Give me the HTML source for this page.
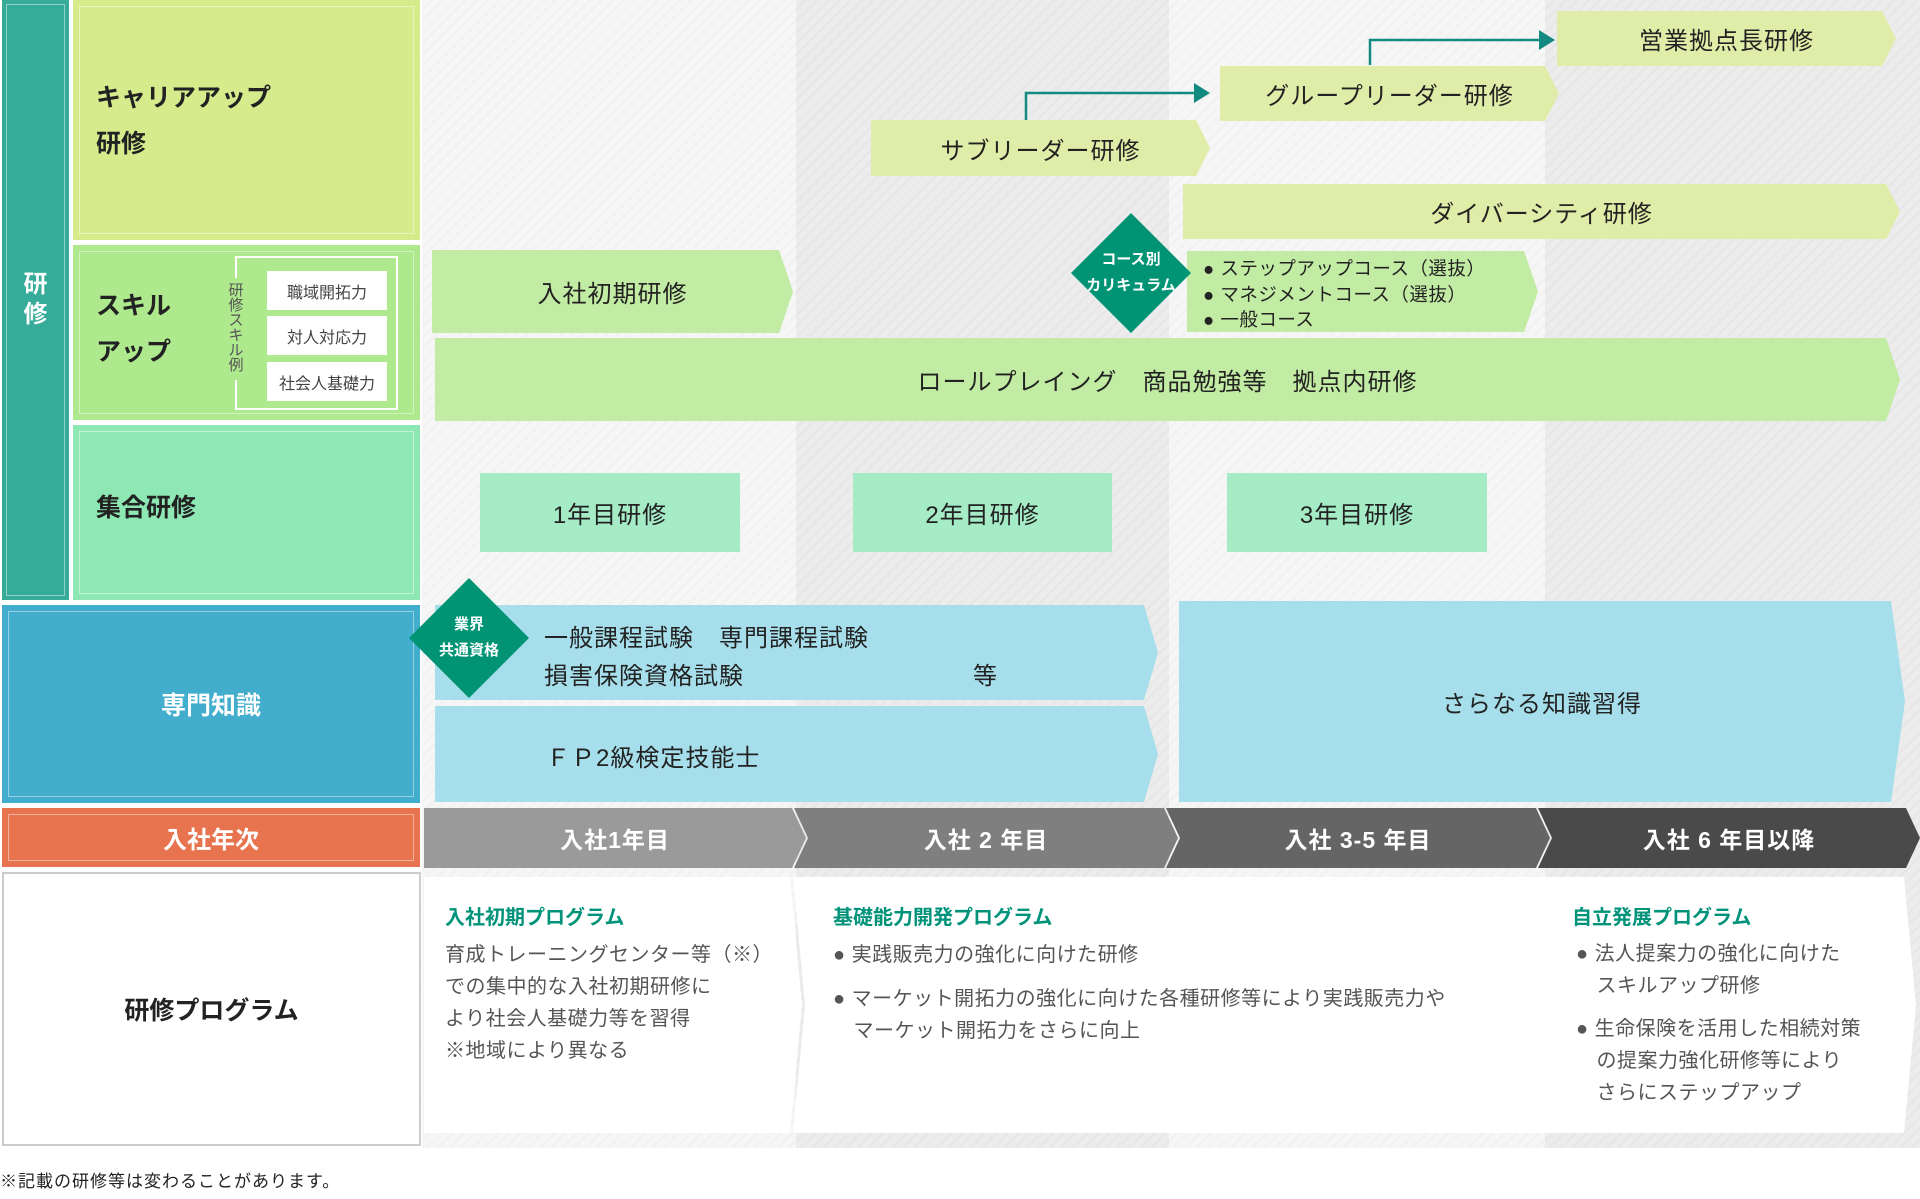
<!DOCTYPE html>
<html><head><meta charset="utf-8">
<style>
*{margin:0;padding:0;box-sizing:border-box}
body{width:1920px;height:1199px;background:#fff;position:relative;overflow:hidden;font-family:"Liberation Sans","Noto Sans CJK JP",sans-serif;color:#222}
.a{position:absolute}
.col{position:absolute;top:0;height:1148px}
.l1{background:repeating-linear-gradient(135deg,#f6f6f6 0 6px,#f1f1f1 6px 8px)}
.l2{background:repeating-linear-gradient(135deg,#ececec 0 6px,#e6e6e6 6px 8px)}
.c{display:flex;align-items:center;justify-content:center;text-align:center}
.chev{clip-path:polygon(0 0,calc(100% - 14px) 0,100% 50%,calc(100% - 14px) 100%,0 100%)}
.yr{clip-path:polygon(0 0,calc(100% - 14px) 0,100% 50%,calc(100% - 14px) 100%,0 100%,14px 50%);color:#fff;font-size:23px;font-weight:bold;letter-spacing:1px}
.lab{font-size:25px;font-weight:bold;color:#222;line-height:46px}
.t{font-size:24px;color:#222;letter-spacing:1px}
.inner{position:absolute;inset:6px;border:1.5px solid rgba(255,255,255,.45)}
.dia{position:absolute;width:120px;height:120px;clip-path:polygon(50% 0,100% 50%,50% 100%,0 50%);background:#009474;color:#fff;font-weight:bold;font-size:15px;line-height:26px}
.sk{position:absolute;left:267px;width:120px;height:39px;background:#fff;font-size:16px;color:#444}
.ph{font-size:20px;font-weight:bold;color:#00937a}
.pb{font-size:20px;color:#555;line-height:32px;letter-spacing:0.5px}
</style></head><body>
<div class="col l1" style="left:422px;width:374px"></div>
<div class="col l2" style="left:796px;width:373px"></div>
<div class="col l1" style="left:1169px;width:376px"></div>
<div class="col l2" style="left:1545px;width:375px"></div>

<div class="a c" style="left:2px;top:0;width:67px;height:600px;background:#36ab99;color:#fff;font-size:24px;font-weight:bold;line-height:30px"><div class="inner" style="inset:4px"></div>研<br>修</div>
<div class="a" style="left:73px;top:0;width:347px;height:240px;background:#d6eb8c"><div class="inner"></div><div class="a lab" style="left:23px;top:75px">キャリアアップ<br>研修</div></div>
<div class="a" style="left:73px;top:245px;width:347px;height:175px;background:#aee98e"><div class="inner"></div><div class="a lab" style="left:23px;top:38px">スキル<br>アップ</div>
<div class="a" style="left:162px;top:11px;width:163px;height:154px;border:2px solid #fff;border-left:none"></div>
<div class="a" style="left:162px;top:11px;width:2px;height:22px;background:#fff"></div>
<div class="a" style="left:162px;top:135px;width:2px;height:30px;background:#fff"></div>
<div class="a" style="left:153px;top:38px;width:20px;font-size:15px;color:#555;line-height:15px;text-align:center">研修スキル例</div>
</div>
<div class="sk c" style="top:271px">職域開拓力</div>
<div class="sk c" style="top:316px">対人対応力</div>
<div class="sk c" style="top:362px">社会人基礎力</div>
<div class="a" style="left:73px;top:425px;width:347px;height:175px;background:#8ee8b4"><div class="inner"></div><div class="a lab" style="left:23px;top:60px">集合研修</div></div>
<div class="a c" style="left:2px;top:605px;width:418px;height:198px;background:#42adcd;color:#fff;font-size:25px;font-weight:bold"><div class="inner"></div>専門知識</div>
<div class="a c" style="left:2px;top:808px;width:418px;height:59px;background:#e8744f;color:#fff;font-size:24px;font-weight:bold"><div class="inner"></div>入社年次</div>
<div class="a c" style="left:2px;top:872px;width:419px;height:274px;background:#fff;border:2px solid #ccc;font-size:25px;font-weight:bold;color:#222">研修プログラム</div>

<div class="a c chev t" style="left:871px;top:120px;width:339px;height:56px;background:#e0eda8">サブリーダー研修</div>
<div class="a c chev t" style="left:1220px;top:66px;width:339px;height:55px;background:#e0eda8">グループリーダー研修</div>
<div class="a c chev t" style="left:1557px;top:11px;width:339px;height:55px;background:#e0eda8">営業拠点長研修</div>
<div class="a c chev t" style="left:1183px;top:184px;width:717px;height:55px;background:#e0eda8">ダイバーシティ研修</div>
<svg class="a" style="left:0;top:0" width="1920" height="200">
<polyline points="1026,120 1026,93 1195,93" fill="none" stroke="#138a80" stroke-width="2.5"/>
<polygon points="1210,93 1194,83 1194,103" fill="#138a80"/>
<polyline points="1370,65 1370,40 1540,40" fill="none" stroke="#138a80" stroke-width="2.5"/>
<polygon points="1555,40 1539,30 1539,50" fill="#138a80"/>
</svg>

<div class="a c chev t" style="left:432px;top:250px;width:361px;height:83px;background:#c2eba3">入社初期研修</div>
<div class="a chev" style="left:1187px;top:251px;width:351px;height:81px;background:#c2eba3;font-size:18.5px;line-height:25.5px;padding:5px 0 0 16px;color:#222;letter-spacing:0.5px">● ステップアップコース（選抜）<br>● マネジメントコース（選抜）<br>● 一般コース</div>
<div class="dia c" style="left:1071px;top:213px">コース別<br>カリキュラム</div>
<div class="a c chev t" style="left:435px;top:338px;width:1465px;height:83px;background:#c2eba3">ロールプレイング　商品勉強等　拠点内研修</div>

<div class="a c t" style="left:480px;top:473px;width:260px;height:79px;background:#a5ebc5">1年目研修</div>
<div class="a c t" style="left:853px;top:473px;width:259px;height:79px;background:#a5ebc5">2年目研修</div>
<div class="a c t" style="left:1227px;top:473px;width:260px;height:79px;background:#a5ebc5">3年目研修</div>

<div class="a chev t" style="left:435px;top:605px;width:723px;height:95px;background:#a6dfeb">
<div class="a" style="left:109px;top:13px">一般課程試験　専門課程試験</div>
<div class="a" style="left:109px;top:51px">損害保険資格試験</div>
<div class="a" style="left:538px;top:51px">等</div></div>
<div class="a chev t" style="left:435px;top:706px;width:723px;height:96px;background:#a6dfeb"><div class="a" style="left:111px;top:32px">ＦＰ2級検定技能士</div></div>
<div class="a c chev t" style="left:1179px;top:601px;width:726px;height:201px;background:#a6dfeb">さらなる知識習得</div>
<div class="dia c" style="left:409px;top:578px">業界<br>共通資格</div>

<div class="a c yr" style="left:424px;top:808px;width:382px;height:60px;background:#9a9a9a;clip-path:polygon(0 0,calc(100% - 14px) 0,100% 50%,calc(100% - 14px) 100%,0 100%)">入社1年目</div>
<div class="a c yr" style="left:794px;top:808px;width:384px;height:60px;background:#7f7f7f">入社 2 年目</div>
<div class="a c yr" style="left:1166px;top:808px;width:384px;height:60px;background:#656565">入社 3-5 年目</div>
<div class="a c yr" style="left:1538px;top:808px;width:382px;height:60px;background:#4a4a4a">入社 6 年目以降</div>

<div class="a" style="left:424px;top:877px;width:378px;height:256px;background:#fff;clip-path:polygon(0 0,calc(100% - 12px) 0,100% 50%,calc(100% - 12px) 100%,0 100%)">
<div class="a ph" style="left:21px;top:24px">入社初期プログラム</div>
<div class="a pb" style="left:21px;top:62px">育成トレーニングセンター等（※）<br>での集中的な入社初期研修に<br>より社会人基礎力等を習得<br>※地域により異なる</div></div>
<div class="a" style="left:793px;top:877px;width:752px;height:256px;background:#fff;clip-path:polygon(0 0,calc(100% - 12px) 0,100% 50%,calc(100% - 12px) 100%,0 100%,12px 50%)">
<div class="a ph" style="left:40px;top:24px">基礎能力開発プログラム</div>
<div class="a pb" style="left:40px;top:62px">● 実践販売力の強化に向けた研修</div>
<div class="a pb" style="left:40px;top:106px">● マーケット開拓力の強化に向けた各種研修等により実践販売力や<br>　マーケット開拓力をさらに向上</div></div>
<div class="a" style="left:1533px;top:877px;width:383px;height:256px;background:#fff;clip-path:polygon(0 0,calc(100% - 12px) 0,100% 50%,calc(100% - 12px) 100%,0 100%,12px 50%)">
<div class="a ph" style="left:39px;top:24px">自立発展プログラム</div>
<div class="a pb" style="left:43px;top:61px">● 法人提案力の強化に向けた<br>　スキルアップ研修</div>
<div class="a pb" style="left:43px;top:136px">● 生命保険を活用した相続対策<br>　の提案力強化研修等により<br>　さらにステップアップ</div></div>

<div class="a" style="left:0;top:1167px;font-size:17px;color:#222;letter-spacing:1px">※記載の研修等は変わることがあります。</div>
</body></html>
